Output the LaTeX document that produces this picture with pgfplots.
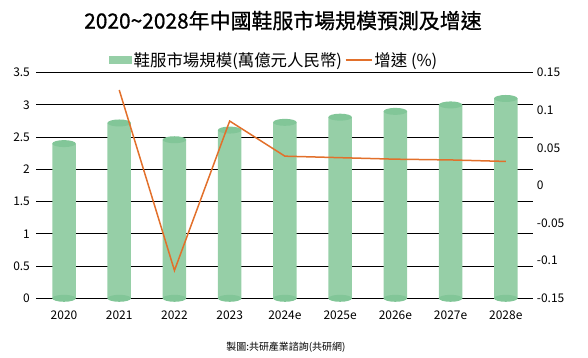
\documentclass[border=0pt]{standalone}
\usepackage{fontspec}
\setmainfont{Noto Sans CJK TC}
\newfontfamily\titlefont[FakeBold=0.8]{Noto Sans CJK TC}
\usepackage{pgfplots}
\pgfplotsset{compat=1.18}
\definecolor{barg}{HTML}{96CFA7}
\definecolor{capg}{HTML}{82C698}
\definecolor{lino}{HTML}{E2702B}
\pgfdeclareplotmark{cap}{\pgfpathellipse{\pgfpointorigin}{\pgfpoint{11.75bp}{0pt}}{\pgfpoint{0pt}{3.5bp}}\pgfusepath{fill}}
\begin{document}
\begin{tikzpicture}
\begin{axis}[
 scale only axis, width=497bp, height=225.6bp,
 xmin=-0.5, xmax=8.5, ymin=0, ymax=3.5,
 xtick={0,1,2,3,4,5,6,7,8},
 xticklabels={2020,2021,2022,2023,2024e,2025e,2026e,2027e,2028e},
 ytick={0,0.5,1,1.5,2,2.5,3,3.5},
 yticklabels={0,0.5,1,1.5,2,2.5,3,3.5},
 ymajorgrids, grid style={black, line width=1bp},
 axis line style={draw=none}, tick style={draw=none},
 ticklabel style={font=\fontsize{12}{14}\selectfont},
 xticklabel style={yshift=-9bp},
 yticklabel style={xshift=-3bp},
 clip=false,
 legend style={draw=none, fill=none, legend columns=2,
   font=\fontsize{16.5}{19}\selectfont,
   at={(axis description cs:0.478,1.056)}, anchor=center,
   /tikz/every even column/.append style={column sep=1bp}},
]
\addplot[ybar, bar width=23.5bp, fill=barg, draw=none,
  legend image code/.code={\fill[barg] (0bp,-4bp) rectangle (23bp,4bp);}]
 coordinates {(0,2.40)(1,2.72)(2,2.46)(3,2.61)(4,2.73)(5,2.81)(6,2.90)(7,3.00)(8,3.10)};
\addlegendentry{鞋服市場規模(萬億元人民幣)}
\addplot[only marks, mark=cap, mark options={fill=capg, draw=none}, forget plot]
 coordinates {(0,0)(1,0)(2,0)(3,0)(4,0)(5,0)(6,0)(7,0)(8,0)};
\addplot[only marks, mark=cap, mark options={fill=capg, draw=none}, forget plot]
 coordinates {(0,2.40)(1,2.72)(2,2.46)(3,2.61)(4,2.73)(5,2.81)(6,2.90)(7,3.00)(8,3.10)};
\addlegendimage{lino, line width=1.5bp, legend image code/.code={\draw[lino,line width=1.5bp] (0bp,0bp) -- (26bp,0bp);}}
\addlegendentry{增速 (\%)}
\node[font=\titlefont\fontsize{21}{25}\selectfont] at (axis description cs:0.496,1.231) {2020\textasciitilde 2028年中國鞋服市場規模預測及增速};
\node[font=\fontsize{10}{12}\selectfont] at (axis description cs:0.502,-0.216) {製圖:共研產業諮詢(共研網)};
\end{axis}
\begin{axis}[
 scale only axis, width=497bp, height=225.6bp,
 xmin=-0.5, xmax=8.5, ymin=-0.15, ymax=0.15,
 axis y line*=right, hide x axis,
 ytick={-0.15,-0.1,-0.05,0,0.05,0.1,0.15},
 yticklabels={-0.15,-0.1,-0.05,0,0.05,0.1,0.15},
 axis line style={draw=none}, tick style={draw=none},
 ticklabel style={font=\fontsize{12}{14}\selectfont},
 clip=false,
]
\addplot[lino, line width=1.5bp] coordinates {(1,0.127)(2,-0.113)(3,0.0857)(4,0.039)(5,0.037)(6,0.035)(7,0.034)(8,0.032)};
\end{axis}
\pgfresetboundingbox
\path[use as bounding box] (-36.4bp,-59.7bp) rectangle (551.6bp,298.3bp);
\end{tikzpicture}
\end{document}
